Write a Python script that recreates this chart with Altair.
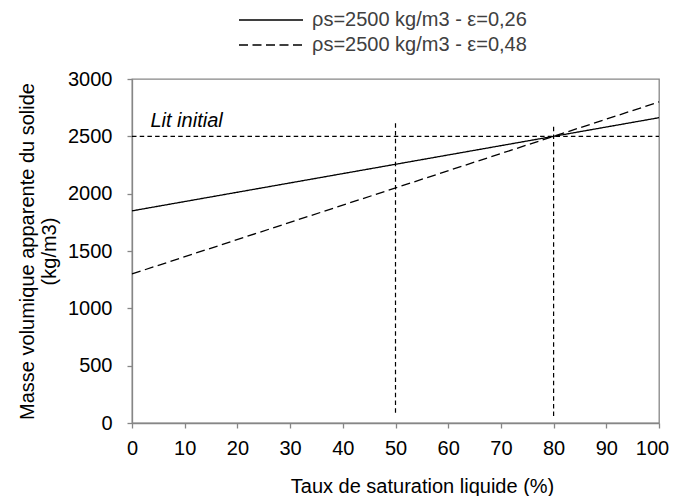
import altair as alt
import pandas as pd

# ---- data ----
saturation = [0, 100]
series_names = ["ρs=2500 kg/m3 - ε=0,26", "ρs=2500 kg/m3 - ε=0,48"]
series_a = [1850, 2662.5]
series_b = [1300, 2800]

ref_level = [2500]
ref_x_range = [0, 100]
vert_x = [50, 80]
vert_y_start = [90, 60]
vert_y_end = [2630, 2590]

label_text = ["Lit initial"]
label_x = [3.5]
label_y = [2583]

x_ticks = list(range(0, 101, 5))
y_ticks = list(range(0, 3001, 250))

FONT = "Liberation Sans"
GRAY = "#868686"

rows = []
for name, vals in zip(series_names, [series_a, series_b]):
    for s, v in zip(saturation, vals):
        rows.append({"serie": name, "S": s, "rho": v})
df = pd.DataFrame(rows)

df_h = pd.DataFrame({"x": [ref_x_range[0]], "x2": [ref_x_range[1]], "y": ref_level})
df_v = pd.DataFrame({"x": vert_x, "y": vert_y_start, "y2": vert_y_end})
df_t = pd.DataFrame({"x": label_x, "y": label_y, "t": label_text})

xscale = alt.Scale(domain=[0, 100], nice=False, zero=False)
yscale = alt.Scale(domain=[0, 3000], nice=False)

xaxis = alt.Axis(
    values=x_ticks, format="d",
    labelExpr="datum.value % 10 == 0 ? datum.label : ''",
    labelOffset={"condition": {"test": "datum.value == 100", "value": -7}, "value": 0},
    title="Taux de saturation liquide (%)",
    titleX=290, titleY=63, titleBaseline="middle", titleAlign="center",
    labelFlush=False, labelOverlap=False, grid=False,
    tickSize=5, labelPadding=10,
)
yaxis = alt.Axis(
    values=y_ticks, format="d",
    labelExpr="datum.value % 500 == 0 ? datum.label : ''",
    title=["Masse volumique apparente du solide", "(kg/m3)"],
    titleX=-105, titleY=172, titleBaseline="middle", titleAlign="center",
    titleAngle=-90, titleLineHeight=22,
    labelFlush=False, labelOverlap=False, grid=False,
    tickSize=5, labelPadding=15,
)

lines = alt.Chart(df).mark_line(color="black", strokeWidth=1.3).encode(
    x=alt.X("S:Q", scale=xscale, axis=xaxis),
    y=alt.Y("rho:Q", scale=yscale, axis=yaxis),
    strokeDash=alt.StrokeDash(
        "serie:N",
        scale=alt.Scale(domain=series_names, range=[[1, 0], [9, 4.5]]),
        legend=alt.Legend(
            title=None, orient="none", legendX=106, legendY=-71,
            symbolType="stroke", symbolSize=4096, symbolStrokeWidth=1.3,
            symbolStrokeColor="black", labelFontSize=20, labelFont=FONT,
            labelColor="#404040", labelOffset=8, rowPadding=1, padding=0,
            clipHeight=24, labelLimit=400,
        ),
    ),
)

hline = alt.Chart(df_h).mark_rule(color="black", strokeWidth=1.2, strokeDash=[4.5, 3.2]).encode(
    x="x:Q", x2="x2:Q", y="y:Q"
)
vlines = alt.Chart(df_v).mark_rule(color="black", strokeWidth=1.2, strokeDash=[4.5, 3.2]).encode(
    x="x:Q", y="y:Q", y2="y2:Q"
)
label = alt.Chart(df_t).mark_text(
    align="left", baseline="alphabetic", fontStyle="italic", fontSize=20, font=FONT, color="black"
).encode(x="x:Q", y="y:Q", text="t:N")

chart = (
    alt.layer(hline, vlines, lines, label)
    .properties(
        width=527, height=344,
        autosize=alt.AutoSizeParams(type="none"),
        padding={"left": 124, "top": 71, "right": 10, "bottom": 73},
    )
    .configure_view(stroke=GRAY, strokeWidth=1.3)
    .configure_axis(
        domainColor=GRAY, tickColor=GRAY, domainWidth=1.3, tickWidth=1.3,
        labelFont=FONT, labelFontSize=20, labelColor="black",
        titleFont=FONT, titleFontSize=20, titleColor="black", titleFontWeight="normal",
    )
)

chart.save("out.html", embed_options={"renderer": "svg", "actions": False})
